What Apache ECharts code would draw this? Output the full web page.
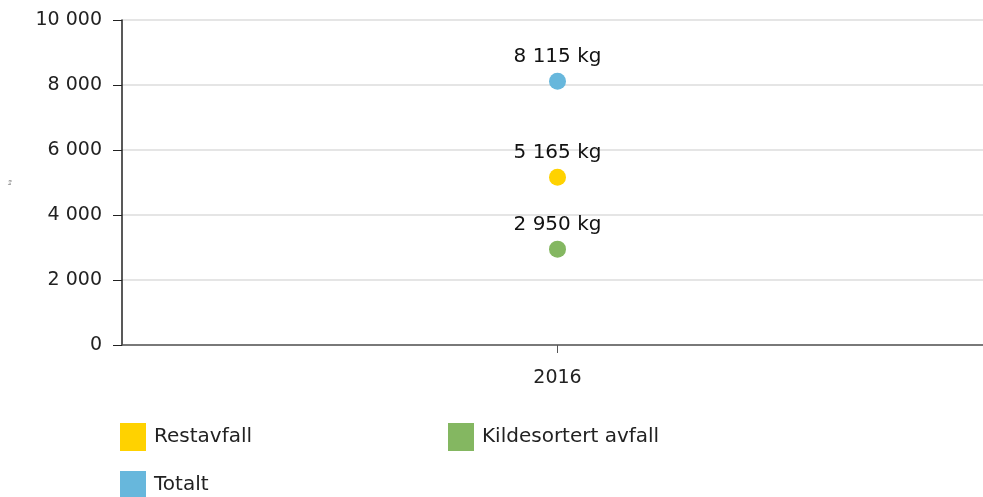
<!DOCTYPE html>
<html><head><meta charset="utf-8">
<script src="https://cdn.jsdelivr.net/npm/echarts@6/dist/echarts.min.js"></script>
<style>html,body{margin:0;padding:0;background:#fff;overflow:hidden}#c{width:993px;height:497px}</style>
</head><body><div id="c"></div>
<script>
const categories = ['2016'];
const seriesNames = ['Restavfall', 'Kildesortert avfall', 'Totalt'];
const restavfall = [5165];
const kildesortert = [2950];
const totalt = [8115];
const yTicks = [0, 2000, 4000, 6000, 8000, 10000];
const colors = ['#ffd200', '#84b761', '#67b7dc'];

function fmt(v){ return String(Math.round(v)).replace(/\B(?=(\d{3})+(?!\d))/g, ' '); }
const font = 'DejaVu Sans';
const values = [restavfall, kildesortert, totalt];
const legendText = {fontSize: 20, color: '#222', fontFamily: font, padding: [0,0,0,3]};

const chart = echarts.init(document.getElementById('c'), null, {renderer:'canvas'});
chart.setOption({
  animation: false,
  textStyle: {fontFamily: font},
  grid: {left: 121, top: 20, right: 0, height: 325, containLabel: false},
  xAxis: {
    type: 'category', data: categories, boundaryGap: true,
    axisLine: {lineStyle: {color: '#555', width: 1.5}},
    axisTick: {show: true, alignWithLabel: true, length: 8, lineStyle: {color: '#555'}},
    axisLabel: {color: '#222', fontSize: 19, fontFamily: font, margin: 24}
  },
  yAxis: {
    type: 'value', min: yTicks[0], max: yTicks[yTicks.length-1], interval: 2000,
    name: 'kg', nameLocation: 'middle', nameRotate: 90, nameGap: 110,
    nameTextStyle: {fontSize: 4, color: '#666'},
    axisLine: {show: true, lineStyle: {color: '#222', width: 1.5}},
    axisTick: {show: true, length: 9, lineStyle: {color: '#222'}},
    splitLine: {lineStyle: {color: '#dcdcdc', width: 1.5}},
    axisLabel: {color: '#222', fontSize: 19, fontFamily: font, margin: 20, formatter: v => fmt(v)}
  },
  legend: [
    {data: [seriesNames[0]], left: 120, top: 423, padding: 0,
     itemWidth: 26, itemHeight: 28, icon: 'rect', textStyle: legendText},
    {data: [seriesNames[1]], left: 448, top: 423, padding: 0,
     itemWidth: 26, itemHeight: 28, icon: 'rect', textStyle: legendText},
    {data: [seriesNames[2]], left: 120, top: 471, padding: 0,
     itemWidth: 26, itemHeight: 28, icon: 'rect', textStyle: legendText}
  ],
  series: seriesNames.map((n, i) => ({
    name: n, type: 'scatter', data: values[i], symbolSize: 17,
    itemStyle: {color: colors[i], opacity: 1},
    label: {show: true, position: 'top', distance: 6, fontSize: 20, color: '#111',
            fontFamily: font, formatter: p => fmt(p.value) + ' kg'}
  }))
});
</script></body></html>
